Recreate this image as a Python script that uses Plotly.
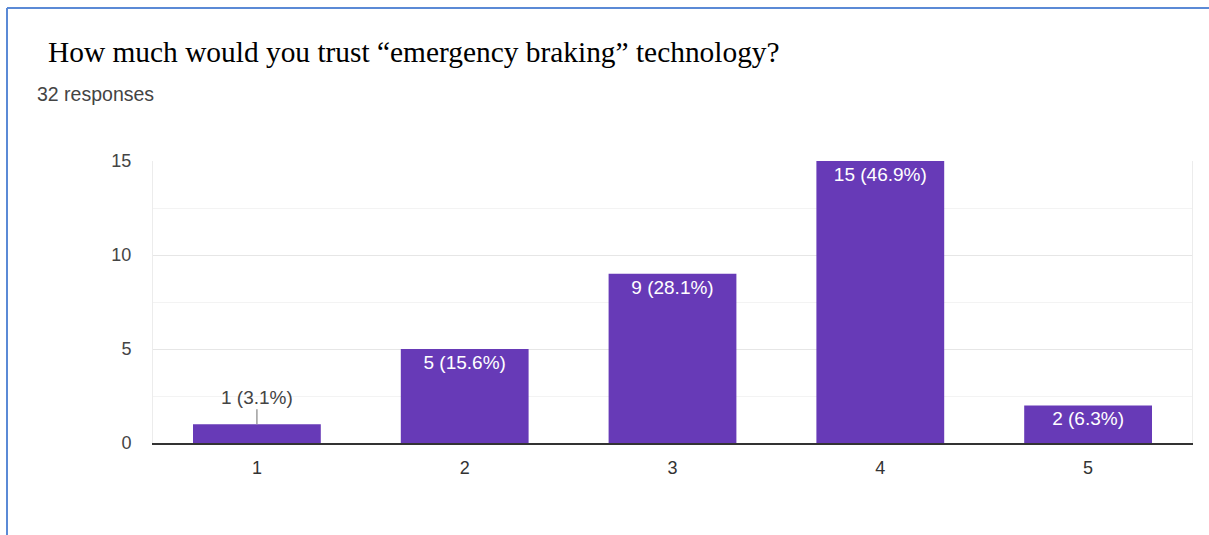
import plotly.graph_objects as go

categories = ["1", "2", "3", "4", "5"]
counts = [1, 5, 9, 15, 2]
percents = [3.1, 15.6, 28.1, 46.9, 6.3]
y_ticks = [0, 5, 10, 15]

title_text = "How much would you trust \u201cemergency braking\u201d technology?"
subtitle_text = "32 responses"

W, H = 1209, 535
L, R, T, B = 153, 17, 161, 92
PW, PH = W - L - R, H - T - B


def px_x(px):
    return (px - L) / PW


def px_y(py):
    return (H - B - py) / PH


labels = [f"{c} ({p}%)" for c, p in zip(counts, percents)]
textpos = ["none" if c < 2 else "inside" for c in counts]

fig = go.Figure()
fig.add_trace(go.Bar(
    x=categories, y=counts,
    marker=dict(color="#673ab7", line=dict(width=0)),
    width=0.615,
    text=labels,
    textposition=textpos,
    insidetextanchor="end",
    textangle=0,
    textfont=dict(family="Liberation Sans, Arial, sans-serif", size=19, color="white"),
    cliponaxis=False,
    hoverinfo="skip",
))

annotations = []
for i, (c, lab, tp) in enumerate(zip(counts, labels, textpos)):
    if tp == "none":
        annotations.append(dict(
            x=i, y=c, xref="x", yref="y", text=lab,
            showarrow=True, arrowhead=0, arrowwidth=1.5, arrowcolor="#9e9e9e",
            ax=0, ay=-27,
            font=dict(family="Liberation Sans, Arial, sans-serif", size=19, color="#444444"),
        ))

annotations.append(dict(
    x=px_x(46), y=px_y(52), xref="paper", yref="paper", xanchor="left", yanchor="middle",
    text=title_text, showarrow=False,
    font=dict(family="Liberation Serif, Times New Roman, serif", size=29.4, color="#000000"),
))
annotations.append(dict(
    x=px_x(35), y=px_y(94), xref="paper", yref="paper", xanchor="left", yanchor="middle",
    text=subtitle_text, showarrow=False,
    font=dict(family="Liberation Sans, Arial, sans-serif", size=19.5, color="#444444"),
))

shapes = [
    dict(type="line", xref="paper", yref="paper",
         x0=px_x(7), x1=px_x(7), y0=px_y(8), y1=px_y(H + 5),
         line=dict(color="#5b8ad6", width=2)),
    dict(type="line", xref="paper", yref="paper",
         x0=px_x(7), x1=px_x(W + 5), y0=px_y(8), y1=px_y(8),
         line=dict(color="#5b8ad6", width=2)),
]

fig.update_layout(
    width=W, height=H,
    margin=dict(l=L, r=R, t=T, b=B, autoexpand=False),
    paper_bgcolor="white", plot_bgcolor="white",
    showlegend=False,
    annotations=annotations,
    shapes=shapes,
    xaxis=dict(
        type="category", range=[-0.5, 4.5],
        showgrid=False, zeroline=False,
        showline=True, linecolor="#333333", linewidth=2,
        ticks="", ticklabelstandoff=7,
        tickfont=dict(family="Liberation Sans, Arial, sans-serif", size=18, color="#333333"),
        fixedrange=True,
    ),
    yaxis=dict(
        range=[0, 15], tickvals=y_ticks,
        showgrid=True, gridcolor="#e6e6e6", gridwidth=1,
        minor=dict(dtick=2.5, showgrid=True, gridcolor="#f3f3f3", gridwidth=1),
        zeroline=False,
        showline=True, mirror=True, linecolor="#ececec", linewidth=1,
        ticks="", ticklabelstandoff=17,
        tickfont=dict(family="Liberation Sans, Arial, sans-serif", size=18, color="#444444"),
        fixedrange=True,
    ),
)

fig.write_html(
    "out.html",
    config={"displayModeBar": False},
    post_script="document.body.style.margin='0';document.body.style.overflow='hidden';",
)
